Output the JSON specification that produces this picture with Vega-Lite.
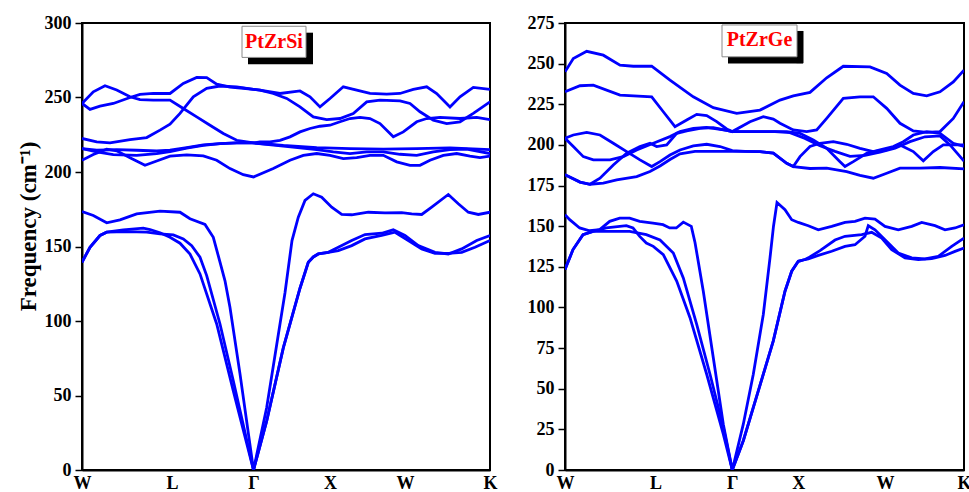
{
"$schema": "https://vega.github.io/schema/vega-lite/v6.json",
"autosize": {"type": "pad"},
"padding": {"left": 16, "top": 13, "right": 0, "bottom": 0},
"background": "white",
"spacing": 75,
"bounds": "flush",
"config": {
  "font": "Liberation Serif",
  "view": {"stroke": "black", "strokeWidth": 2},
  "axis": {"domainColor": "black", "domainWidth": 2, "tickColor": "black", "tickWidth": 1.5, "labelFont": "Liberation Serif", "labelFontWeight": "bold", "labelFontSize": 18, "labelColor": "black", "titleFont": "Liberation Serif", "titleFontWeight": "bold", "titleFontSize": 23, "titleColor": "black", "grid": false}
},
"datasets": {
"si": [
{"b":"a1","k":0,"f":173.5},{"b":"a1","k":0.113,"f":170.8},{"b":"a1","k":0.247,"f":165.9},{"b":"a1","k":0.38,"f":167.9},{"b":"a1","k":0.547,"f":171.9},{"b":"a1","k":0.78,"f":173.7},{"b":"a1","k":0.98,"f":173},{"b":"a1","k":1.08,"f":168.6},{"b":"a1","k":1.23,"f":164.8},{"b":"a1","k":1.313,"f":156.2},{"b":"a1","k":1.38,"f":139.5},{"b":"a1","k":1.43,"f":127},{"b":"a1","k":1.48,"f":109},{"b":"a1","k":1.58,"f":64.5},{"b":"a1","k":1.715,"f":0},{"b":"a1","k":1.847,"f":41.9},{"b":"a1","k":1.98,"f":98},{"b":"a1","k":2.03,"f":119},{"b":"a1","k":2.1,"f":154},{"b":"a1","k":2.163,"f":169.7},{"b":"a1","k":2.23,"f":180.9},{"b":"a1","k":2.313,"f":185.4},{"b":"a1","k":2.397,"f":183.1},{"b":"a1","k":2.497,"f":176.4},{"b":"a1","k":2.597,"f":171.5},{"b":"a1","k":2.697,"f":171.3},{"b":"a1","k":2.863,"f":173},{"b":"a1","k":3.03,"f":172.6},{"b":"a1","k":3.197,"f":172.8},{"b":"a1","k":3.297,"f":171.9},{"b":"a1","k":3.397,"f":171.5},{"b":"a1","k":3.497,"f":176.4},{"b":"a1","k":3.663,"f":184.9},{"b":"a1","k":3.763,"f":178.7},{"b":"a1","k":3.863,"f":173},{"b":"a1","k":3.963,"f":171.5},{"b":"a1","k":4.08,"f":173},
{"b":"a2","k":0,"f":139.4},{"b":"a2","k":0.08,"f":149.5},{"b":"a2","k":0.18,"f":157.4},{"b":"a2","k":0.247,"f":159.6},{"b":"a2","k":0.45,"f":160},{"b":"a2","k":0.647,"f":159.6},{"b":"a2","k":0.78,"f":158.5},{"b":"a2","k":0.913,"f":157.8},{"b":"a2","k":1.013,"f":155.1},{"b":"a2","k":1.097,"f":150.6},{"b":"a2","k":1.18,"f":142.8},{"b":"a2","k":1.247,"f":130.5},{"b":"a2","k":1.38,"f":98},{"b":"a2","k":1.513,"f":59.9},{"b":"a2","k":1.715,"f":0},{"b":"a2","k":1.847,"f":33},{"b":"a2","k":2.013,"f":82},{"b":"a2","k":2.18,"f":122},{"b":"a2","k":2.263,"f":139.4},{"b":"a2","k":2.313,"f":143},{"b":"a2","k":2.363,"f":145},{"b":"a2","k":2.463,"f":146.1},{"b":"a2","k":2.563,"f":149.5},{"b":"a2","k":2.697,"f":154},{"b":"a2","k":2.83,"f":158},{"b":"a2","k":2.997,"f":158.9},{"b":"a2","k":3.113,"f":161.2},{"b":"a2","k":3.23,"f":157.4},{"b":"a2","k":3.363,"f":150.6},{"b":"a2","k":3.53,"f":146.1},{"b":"a2","k":3.663,"f":145},{"b":"a2","k":3.797,"f":148.4},{"b":"a2","k":3.947,"f":154},{"b":"a2","k":4.08,"f":157.4},
{"b":"a3","k":0,"f":139.4},{"b":"a3","k":0.08,"f":149.5},{"b":"a3","k":0.18,"f":157.4},{"b":"a3","k":0.247,"f":159.6},{"b":"a3","k":0.413,"f":161.2},{"b":"a3","k":0.613,"f":162.3},{"b":"a3","k":0.68,"f":161.4},{"b":"a3","k":0.78,"f":159.2},{"b":"a3","k":0.88,"f":156.2},{"b":"a3","k":0.98,"f":152.2},{"b":"a3","k":1.08,"f":144.9},{"b":"a3","k":1.18,"f":131.6},{"b":"a3","k":1.347,"f":98},{"b":"a3","k":1.513,"f":53.1},{"b":"a3","k":1.715,"f":0},{"b":"a3","k":1.847,"f":33},{"b":"a3","k":2.013,"f":82},{"b":"a3","k":2.18,"f":122},{"b":"a3","k":2.263,"f":139.4},{"b":"a3","k":2.313,"f":143},{"b":"a3","k":2.363,"f":145},{"b":"a3","k":2.463,"f":146.1},{"b":"a3","k":2.563,"f":147.3},{"b":"a3","k":2.697,"f":150.6},{"b":"a3","k":2.83,"f":155.1},{"b":"a3","k":2.997,"f":157.4},{"b":"a3","k":3.13,"f":159.6},{"b":"a3","k":3.263,"f":154},{"b":"a3","k":3.397,"f":148.4},{"b":"a3","k":3.53,"f":145.4},{"b":"a3","k":3.663,"f":145.4},{"b":"a3","k":3.797,"f":146.1},{"b":"a3","k":3.93,"f":149.5},{"b":"a3","k":4.08,"f":154},
{"b":"o1","k":0,"f":246},{"b":"o1","k":0.113,"f":253.8},{"b":"o1","k":0.23,"f":257.9},{"b":"o1","k":0.347,"f":255},{"b":"o1","k":0.48,"f":250.5},{"b":"o1","k":0.58,"f":248.6},{"b":"o1","k":0.713,"f":248.2},{"b":"o1","k":0.88,"f":248.2},{"b":"o1","k":1.013,"f":242.6},{"b":"o1","k":1.147,"f":237},{"b":"o1","k":1.28,"f":231.4},{"b":"o1","k":1.413,"f":225.8},{"b":"o1","k":1.547,"f":221.3},{"b":"o1","k":1.715,"f":219.5},{"b":"o1","k":1.78,"f":220.2},{"b":"o1","k":1.88,"f":220.2},{"b":"o1","k":1.98,"f":221.3},{"b":"o1","k":2.08,"f":223.6},{"b":"o1","k":2.18,"f":226.9},{"b":"o1","k":2.28,"f":229.2},{"b":"o1","k":2.38,"f":230.7},{"b":"o1","k":2.48,"f":231.4},{"b":"o1","k":2.58,"f":233.7},{"b":"o1","k":2.68,"f":235.9},{"b":"o1","k":2.78,"f":236.6},{"b":"o1","k":2.88,"f":235.9},{"b":"o1","k":2.98,"f":232.5},{"b":"o1","k":3.113,"f":223.6},{"b":"o1","k":3.213,"f":226.9},{"b":"o1","k":3.347,"f":233.7},{"b":"o1","k":3.447,"f":235.9},{"b":"o1","k":3.58,"f":236.6},{"b":"o1","k":3.78,"f":235.9},{"b":"o1","k":3.947,"f":236.6},{"b":"o1","k":4.08,"f":235.2},
{"b":"o2","k":0,"f":246},{"b":"o2","k":0.08,"f":242},{"b":"o2","k":0.18,"f":244.2},{"b":"o2","k":0.313,"f":246},{"b":"o2","k":0.48,"f":250},{"b":"o2","k":0.58,"f":252.1},{"b":"o2","k":0.713,"f":252.7},{"b":"o2","k":0.88,"f":252.7},{"b":"o2","k":1.013,"f":259.4},{"b":"o2","k":1.147,"f":263.5},{"b":"o2","k":1.247,"f":263.3},{"b":"o2","k":1.347,"f":259},{"b":"o2","k":1.48,"f":257},{"b":"o2","k":1.613,"f":256.2},{"b":"o2","k":1.715,"f":255.5},{"b":"o2","k":1.78,"f":254.9},{"b":"o2","k":1.98,"f":252.7},{"b":"o2","k":2.18,"f":254.4},{"b":"o2","k":2.28,"f":250.5},{"b":"o2","k":2.38,"f":243.7},{"b":"o2","k":2.48,"f":249.3},{"b":"o2","k":2.613,"f":257.2},{"b":"o2","k":2.747,"f":255},{"b":"o2","k":2.88,"f":252.7},{"b":"o2","k":3.047,"f":252.3},{"b":"o2","k":3.18,"f":252.7},{"b":"o2","k":3.313,"f":255.4},{"b":"o2","k":3.447,"f":257.2},{"b":"o2","k":3.547,"f":252.7},{"b":"o2","k":3.68,"f":243.7},{"b":"o2","k":3.78,"f":250.5},{"b":"o2","k":3.913,"f":256.8},{"b":"o2","k":4.08,"f":255.4},
{"b":"o3","k":0,"f":222.5},{"b":"o3","k":0.147,"f":220.2},{"b":"o3","k":0.28,"f":219.5},{"b":"o3","k":0.48,"f":221.8},{"b":"o3","k":0.647,"f":223.1},{"b":"o3","k":0.78,"f":228.1},{"b":"o3","k":0.88,"f":232.1},{"b":"o3","k":0.98,"f":239.3},{"b":"o3","k":1.113,"f":250.5},{"b":"o3","k":1.247,"f":256.1},{"b":"o3","k":1.38,"f":257.7},{"b":"o3","k":1.547,"f":257.2},{"b":"o3","k":1.715,"f":255.5},{"b":"o3","k":1.78,"f":254.9},{"b":"o3","k":1.913,"f":252.7},{"b":"o3","k":2.047,"f":249.4},{"b":"o3","k":2.18,"f":243.7},{"b":"o3","k":2.313,"f":237},{"b":"o3","k":2.447,"f":235.2},{"b":"o3","k":2.58,"f":235.9},{"b":"o3","k":2.713,"f":239.3},{"b":"o3","k":2.847,"f":247.1},{"b":"o3","k":2.98,"f":248.2},{"b":"o3","k":3.18,"f":247.8},{"b":"o3","k":3.28,"f":246},{"b":"o3","k":3.38,"f":240.4},{"b":"o3","k":3.513,"f":234.8},{"b":"o3","k":3.647,"f":232.5},{"b":"o3","k":3.78,"f":233.7},{"b":"o3","k":3.913,"f":239.3},{"b":"o3","k":4.08,"f":247.1},
{"b":"o4","k":0,"f":207.9},{"b":"o4","k":0.113,"f":211.7},{"b":"o4","k":0.247,"f":215.3},{"b":"o4","k":0.347,"f":214.2},{"b":"o4","k":0.48,"f":209.5},{"b":"o4","k":0.63,"f":204.5},{"b":"o4","k":0.747,"f":207.4},{"b":"o4","k":0.88,"f":210.6},{"b":"o4","k":1.047,"f":211.5},{"b":"o4","k":1.213,"f":210.8},{"b":"o4","k":1.347,"f":207.9},{"b":"o4","k":1.48,"f":202.3},{"b":"o4","k":1.613,"f":198.2},{"b":"o4","k":1.715,"f":196.7},{"b":"o4","k":1.913,"f":202.3},{"b":"o4","k":2.08,"f":207.9},{"b":"o4","k":2.213,"f":211.2},{"b":"o4","k":2.347,"f":212.4},{"b":"o4","k":2.48,"f":211.2},{"b":"o4","k":2.613,"f":209},{"b":"o4","k":2.747,"f":209.7},{"b":"o4","k":2.88,"f":211.2},{"b":"o4","k":3.013,"f":211.2},{"b":"o4","k":3.147,"f":206.8},{"b":"o4","k":3.28,"f":204.5},{"b":"o4","k":3.38,"f":204.5},{"b":"o4","k":3.48,"f":207.9},{"b":"o4","k":3.613,"f":211.2},{"b":"o4","k":3.747,"f":212.4},{"b":"o4","k":3.88,"f":210.6},{"b":"o4","k":3.98,"f":209.7},{"b":"o4","k":4.08,"f":210.6},
{"b":"o5","k":0,"f":215.7},{"b":"o5","k":0.147,"f":213.5},{"b":"o5","k":0.313,"f":211.7},{"b":"o5","k":0.547,"f":211.2},{"b":"o5","k":0.747,"f":212.4},{"b":"o5","k":0.88,"f":213.7},{"b":"o5","k":1.047,"f":216},{"b":"o5","k":1.213,"f":217.8},{"b":"o5","k":1.38,"f":219.1},{"b":"o5","k":1.547,"f":219.5},{"b":"o5","k":1.715,"f":219.5},{"b":"o5","k":2.013,"f":217.8},{"b":"o5","k":2.347,"f":216.4},{"b":"o5","k":2.68,"f":215.7},{"b":"o5","k":3.013,"f":215.3},{"b":"o5","k":3.347,"f":215.7},{"b":"o5","k":3.68,"f":216.2},{"b":"o5","k":4.08,"f":215},
{"b":"o6","k":0,"f":215.7},{"b":"o6","k":0.147,"f":214.6},{"b":"o6","k":0.347,"f":215},{"b":"o6","k":0.547,"f":214.6},{"b":"o6","k":0.747,"f":214.1},{"b":"o6","k":0.88,"f":214.6},{"b":"o6","k":1.047,"f":216.4},{"b":"o6","k":1.213,"f":218.2},{"b":"o6","k":1.38,"f":219.1},{"b":"o6","k":1.547,"f":219.5},{"b":"o6","k":1.715,"f":219.5},{"b":"o6","k":2.013,"f":217.3},{"b":"o6","k":2.347,"f":215},{"b":"o6","k":2.513,"f":213.5},{"b":"o6","k":2.68,"f":212.3},{"b":"o6","k":2.847,"f":213.5},{"b":"o6","k":3.013,"f":213.5},{"b":"o6","k":3.18,"f":211.9},{"b":"o6","k":3.347,"f":211.2},{"b":"o6","k":3.513,"f":213.5},{"b":"o6","k":3.68,"f":215},{"b":"o6","k":3.847,"f":215.3},{"b":"o6","k":4.08,"f":212.4}
],
"ge": [
{"b":"a1","k":0,"f":157.1},{"b":"a1","k":0.047,"f":154},{"b":"a1","k":0.147,"f":148.9},{"b":"a1","k":0.247,"f":147.2},{"b":"a1","k":0.347,"f":147.9},{"b":"a1","k":0.447,"f":153},{"b":"a1","k":0.547,"f":155},{"b":"a1","k":0.647,"f":155},{"b":"a1","k":0.747,"f":153},{"b":"a1","k":0.88,"f":151.9},{"b":"a1","k":0.98,"f":150.9},{"b":"a1","k":1.047,"f":148.9},{"b":"a1","k":1.113,"f":148.9},{"b":"a1","k":1.183,"f":152.5},{"b":"a1","k":1.263,"f":149.9},{"b":"a1","k":1.3,"f":140},{"b":"a1","k":1.383,"f":110},{"b":"a1","k":1.483,"f":69.1},{"b":"a1","k":1.583,"f":28.2},{"b":"a1","k":1.673,"f":0},{"b":"a1","k":1.783,"f":28.2},{"b":"a1","k":1.883,"f":58.9},{"b":"a1","k":1.983,"f":95.7},{"b":"a1","k":2.05,"f":130.5},{"b":"a1","k":2.085,"f":150},{"b":"a1","k":2.12,"f":164.6},{"b":"a1","k":2.2,"f":160.1},{"b":"a1","k":2.267,"f":154},{"b":"a1","k":2.333,"f":152.3},{"b":"a1","k":2.433,"f":150.3},{"b":"a1","k":2.533,"f":147.8},{"b":"a1","k":2.667,"f":149.9},{"b":"a1","k":2.8,"f":152.3},{"b":"a1","k":2.9,"f":153},{"b":"a1","k":3.0,"f":155},{"b":"a1","k":3.1,"f":154.4},{"b":"a1","k":3.2,"f":149.9},{"b":"a1","k":3.333,"f":147.8},{"b":"a1","k":3.467,"f":149.9},{"b":"a1","k":3.567,"f":152.3},{"b":"a1","k":3.7,"f":150.3},{"b":"a1","k":3.8,"f":147.8},{"b":"a1","k":3.9,"f":148.9},{"b":"a1","k":3.99,"f":150.9},
{"b":"a2","k":0,"f":123.3},{"b":"a2","k":0.08,"f":135.6},{"b":"a2","k":0.18,"f":144.8},{"b":"a2","k":0.28,"f":146.8},{"b":"a2","k":0.413,"f":148.9},{"b":"a2","k":0.613,"f":150.3},{"b":"a2","k":0.68,"f":148.9},{"b":"a2","k":0.747,"f":143.7},{"b":"a2","k":0.813,"f":139.6},{"b":"a2","k":0.883,"f":137.6},{"b":"a2","k":0.983,"f":132.5},{"b":"a2","k":1.117,"f":116.2},{"b":"a2","k":1.25,"f":93.7},{"b":"a2","k":1.417,"f":58.9},{"b":"a2","k":1.583,"f":22.1},{"b":"a2","k":1.673,"f":0},{"b":"a2","k":1.783,"f":18},{"b":"a2","k":1.933,"f":48.7},{"b":"a2","k":2.083,"f":79.4},{"b":"a2","k":2.2,"f":110},{"b":"a2","k":2.267,"f":122.3},{"b":"a2","k":2.333,"f":128.4},{"b":"a2","k":2.4,"f":129.5},{"b":"a2","k":2.433,"f":129.9},{"b":"a2","k":2.533,"f":132},{"b":"a2","k":2.667,"f":134.6},{"b":"a2","k":2.8,"f":137.6},{"b":"a2","k":2.9,"f":138.6},{"b":"a2","k":3.0,"f":143.8},{"b":"a2","k":3.033,"f":150.3},{"b":"a2","k":3.1,"f":147.8},{"b":"a2","k":3.2,"f":141.7},{"b":"a2","k":3.333,"f":133.5},{"b":"a2","k":3.467,"f":130.5},{"b":"a2","k":3.6,"f":129.9},{"b":"a2","k":3.733,"f":131.5},{"b":"a2","k":3.867,"f":137.6},{"b":"a2","k":3.99,"f":142.7},
{"b":"a3","k":0,"f":123.3},{"b":"a3","k":0.08,"f":135.6},{"b":"a3","k":0.18,"f":144.8},{"b":"a3","k":0.28,"f":146.8},{"b":"a3","k":0.413,"f":146.8},{"b":"a3","k":0.647,"f":146.8},{"b":"a3","k":0.813,"f":144.8},{"b":"a3","k":0.95,"f":141.5},{"b":"a3","k":1.083,"f":133.5},{"b":"a3","k":1.183,"f":118.2},{"b":"a3","k":1.317,"f":89.6},{"b":"a3","k":1.45,"f":58.9},{"b":"a3","k":1.583,"f":26.2},{"b":"a3","k":1.673,"f":0},{"b":"a3","k":1.783,"f":18},{"b":"a3","k":1.933,"f":48.7},{"b":"a3","k":2.083,"f":79.4},{"b":"a3","k":2.2,"f":110},{"b":"a3","k":2.267,"f":122.3},{"b":"a3","k":2.333,"f":128.4},{"b":"a3","k":2.4,"f":129.5},{"b":"a3","k":2.433,"f":130.5},{"b":"a3","k":2.55,"f":135},{"b":"a3","k":2.7,"f":141.5},{"b":"a3","k":2.8,"f":143.8},{"b":"a3","k":2.967,"f":144.8},{"b":"a3","k":3.067,"f":146.2},{"b":"a3","k":3.167,"f":142.7},{"b":"a3","k":3.267,"f":135.6},{"b":"a3","k":3.4,"f":130.5},{"b":"a3","k":3.533,"f":129.4},{"b":"a3","k":3.667,"f":130},{"b":"a3","k":3.8,"f":132},{"b":"a3","k":3.9,"f":134.5},{"b":"a3","k":3.99,"f":136.6},
{"b":"g1","k":0,"f":245},{"b":"g1","k":0.083,"f":253.1},{"b":"g1","k":0.217,"f":257.6},{"b":"g1","k":0.383,"f":255.2},{"b":"g1","k":0.55,"f":249.1},{"b":"g1","k":0.683,"f":248.4},{"b":"g1","k":0.867,"f":248.4},{"b":"g1","k":1.05,"f":239.8},{"b":"g1","k":1.283,"f":229.6},{"b":"g1","k":1.483,"f":222.9},{"b":"g1","k":1.717,"f":219.4},{"b":"g1","k":1.95,"f":221.4},{"b":"g1","k":2.15,"f":227.6},{"b":"g1","k":2.283,"f":230.2},{"b":"g1","k":2.45,"f":232.3},{"b":"g1","k":2.617,"f":241.3},{"b":"g1","k":2.783,"f":248.4},{"b":"g1","k":3.05,"f":248},{"b":"g1","k":3.217,"f":243.9},{"b":"g1","k":3.35,"f":236.8},{"b":"g1","k":3.483,"f":231.7},{"b":"g1","k":3.617,"f":230.2},{"b":"g1","k":3.75,"f":232.7},{"b":"g1","k":3.883,"f":238.8},{"b":"g1","k":3.99,"f":246},
{"b":"g2","k":0,"f":232.7},{"b":"g2","k":0.15,"f":236.4},{"b":"g2","k":0.283,"f":236.8},{"b":"g2","k":0.55,"f":230.6},{"b":"g2","k":0.867,"f":229.6},{"b":"g2","k":0.983,"f":220.4},{"b":"g2","k":1.1,"f":211.2},{"b":"g2","k":1.217,"f":215.3},{"b":"g2","k":1.317,"f":218.8},{"b":"g2","k":1.417,"f":218},{"b":"g2","k":1.517,"f":214.3},{"b":"g2","k":1.617,"f":209.8},{"b":"g2","k":1.673,"f":208.2},{"b":"g2","k":1.85,"f":214.3},{"b":"g2","k":1.983,"f":217.4},{"b":"g2","k":2.083,"f":215.9},{"b":"g2","k":2.15,"f":213.3},{"b":"g2","k":2.283,"f":209.2},{"b":"g2","k":2.417,"f":208.2},{"b":"g2","k":2.517,"f":209.2},{"b":"g2","k":2.617,"f":216.3},{"b":"g2","k":2.783,"f":228.6},{"b":"g2","k":2.95,"f":229.6},{"b":"g2","k":3.083,"f":229.6},{"b":"g2","k":3.217,"f":222.5},{"b":"g2","k":3.35,"f":213.3},{"b":"g2","k":3.483,"f":208.6},{"b":"g2","k":3.617,"f":207.7},{"b":"g2","k":3.75,"f":208.2},{"b":"g2","k":3.883,"f":216.3},{"b":"g2","k":3.99,"f":226.6},
{"b":"g3","k":0,"f":204.1},{"b":"g3","k":0.083,"f":199},{"b":"g3","k":0.183,"f":192.8},{"b":"g3","k":0.283,"f":190.8},{"b":"g3","k":0.45,"f":190.8},{"b":"g3","k":0.583,"f":192.8},{"b":"g3","k":0.717,"f":196.9},{"b":"g3","k":0.883,"f":201},{"b":"g3","k":1.05,"f":205.1},{"b":"g3","k":1.15,"f":208.2},{"b":"g3","k":1.283,"f":210.2},{"b":"g3","k":1.417,"f":210.8},{"b":"g3","k":1.617,"f":209},{"b":"g3","k":1.673,"f":208.2},{"b":"g3","k":1.9,"f":208.2},{"b":"g3","k":2.1,"f":208.2},{"b":"g3","k":2.25,"f":207.5},{"b":"g3","k":2.4,"f":204},{"b":"g3","k":2.55,"f":199.5},{"b":"g3","k":2.7,"f":196},{"b":"g3","k":2.85,"f":193},{"b":"g3","k":3.0,"f":193.5},{"b":"g3","k":3.15,"f":195.5},{"b":"g3","k":3.3,"f":198},{"b":"g3","k":3.45,"f":202},{"b":"g3","k":3.6,"f":205},{"b":"g3","k":3.75,"f":205.5},{"b":"g3","k":3.85,"f":200},{"b":"g3","k":3.99,"f":190},
{"b":"g4","k":0,"f":181.6},{"b":"g4","k":0.15,"f":177.1},{"b":"g4","k":0.25,"f":175.8},{"b":"g4","k":0.35,"f":179.5},{"b":"g4","k":0.483,"f":187.7},{"b":"g4","k":0.617,"f":194.9},{"b":"g4","k":0.75,"f":199},{"b":"g4","k":0.85,"f":201},{"b":"g4","k":0.917,"f":199},{"b":"g4","k":1.017,"f":200},{"b":"g4","k":1.117,"f":207.1},{"b":"g4","k":1.217,"f":208.6},{"b":"g4","k":1.35,"f":210.2},{"b":"g4","k":1.483,"f":210.6},{"b":"g4","k":1.617,"f":209},{"b":"g4","k":1.673,"f":208.2},{"b":"g4","k":1.95,"f":208.2},{"b":"g4","k":2.217,"f":208.2},{"b":"g4","k":2.35,"f":207.1},{"b":"g4","k":2.483,"f":203},{"b":"g4","k":2.617,"f":197.9},{"b":"g4","k":2.75,"f":189.7},{"b":"g4","k":2.8,"f":186.7},{"b":"g4","k":2.883,"f":189.7},{"b":"g4","k":3.017,"f":194.9},{"b":"g4","k":3.15,"f":196.9},{"b":"g4","k":3.283,"f":199},{"b":"g4","k":3.383,"f":202},{"b":"g4","k":3.483,"f":206.1},{"b":"g4","k":3.617,"f":208.2},{"b":"g4","k":3.75,"f":207.1},{"b":"g4","k":3.883,"f":201},{"b":"g4","k":3.99,"f":199},
{"b":"g5","k":0,"f":204.1},{"b":"g5","k":0.083,"f":206.1},{"b":"g5","k":0.217,"f":207.7},{"b":"g5","k":0.35,"f":206.1},{"b":"g5","k":0.483,"f":201},{"b":"g5","k":0.617,"f":195.9},{"b":"g5","k":0.75,"f":190.8},{"b":"g5","k":0.867,"f":186.7},{"b":"g5","k":0.95,"f":189.7},{"b":"g5","k":1.05,"f":193.8},{"b":"g5","k":1.15,"f":196.9},{"b":"g5","k":1.283,"f":199.4},{"b":"g5","k":1.417,"f":200.4},{"b":"g5","k":1.55,"f":199},{"b":"g5","k":1.673,"f":196.5},{"b":"g5","k":1.8,"f":196},{"b":"g5","k":1.95,"f":195.9},{"b":"g5","k":2.083,"f":194.9},{"b":"g5","k":2.217,"f":188.7},{"b":"g5","k":2.283,"f":186.7},{"b":"g5","k":2.35,"f":192.8},{"b":"g5","k":2.45,"f":199},{"b":"g5","k":2.55,"f":201},{"b":"g5","k":2.683,"f":202},{"b":"g5","k":2.817,"f":200.4},{"b":"g5","k":2.95,"f":197.9},{"b":"g5","k":3.083,"f":195.9},{"b":"g5","k":3.217,"f":196.9},{"b":"g5","k":3.35,"f":200},{"b":"g5","k":3.483,"f":195.9},{"b":"g5","k":3.583,"f":190.2},{"b":"g5","k":3.683,"f":195.9},{"b":"g5","k":3.783,"f":200},{"b":"g5","k":3.99,"f":200},
{"b":"g6","k":0,"f":181.6},{"b":"g6","k":0.15,"f":177.1},{"b":"g6","k":0.25,"f":175.8},{"b":"g6","k":0.383,"f":176.5},{"b":"g6","k":0.517,"f":178.5},{"b":"g6","k":0.717,"f":180.5},{"b":"g6","k":0.85,"f":183.6},{"b":"g6","k":0.95,"f":187},{"b":"g6","k":1.05,"f":191},{"b":"g6","k":1.15,"f":194.5},{"b":"g6","k":1.3,"f":196},{"b":"g6","k":1.45,"f":196},{"b":"g6","k":1.673,"f":196},{"b":"g6","k":1.8,"f":196},{"b":"g6","k":1.95,"f":195.9},{"b":"g6","k":2.083,"f":194.9},{"b":"g6","k":2.217,"f":188.7},{"b":"g6","k":2.283,"f":186.7},{"b":"g6","k":2.45,"f":185.5},{"b":"g6","k":2.617,"f":185.7},{"b":"g6","k":2.817,"f":183.6},{"b":"g6","k":2.95,"f":181.2},{"b":"g6","k":3.083,"f":179.5},{"b":"g6","k":3.217,"f":182.6},{"b":"g6","k":3.35,"f":185.7},{"b":"g6","k":3.55,"f":185.7},{"b":"g6","k":3.75,"f":186.1},{"b":"g6","k":3.99,"f":185.3}
],
"shsi": [{"xa": 2.275, "xb": 2.275, "ya": 293.5, "yb": 272.5}, {"xa": 1.66, "xb": 2.31, "ya": 274.6, "yb": 274.6}],
"shge": [{"xa": 2.35, "xb": 2.35, "ya": 270.1, "yb": 250.3}, {"xa": 1.63, "xb": 2.38, "ya": 252.2, "yb": 252.2}],
"boxsi": [{"x1": 1.60, "x2": 2.24, "y1": 297.8, "y2": 276.9}],
"boxge": [{"x1": 1.57, "x2": 2.32, "y1": 273.8, "y2": 254.2}],
"lblsi": [{"name": "PtZrSi", "tx": 1.92, "ty": 287.2}],
"lblge": [{"name": "PtZrGe", "tx": 1.945, "ty": 264.3}]
},
"hconcat": [
{
  "width": 408, "height": 447,
  "layer": [
    {
      "data": {"name": "si"},
      "mark": {"type": "line", "color": "#0000FF", "strokeWidth": 2.8, "clip": true},
      "encoding": {
        "x": {"field": "k", "type": "quantitative", "scale": {"domain": [0, 4.08], "nice": false, "zero": false},
              "axis": {"values": [0, 0.9, 1.715, 2.48, 3.23, 4.08], "labelExpr": "['W','L','Γ','X','W','K'][indexof([0, 0.9, 1.715, 2.48, 3.23, 4.08], datum.value)]", "ticks": false, "title": null, "labelFlush": false, "labelPadding": 4}},
        "y": {"field": "f", "type": "quantitative", "scale": {"domain": [0, 300], "nice": false},
              "axis": {"values": [0,25,50,75,100,125,150,175,200,225,250,275,300], "labelExpr": "datum.value % 50 == 0 ? datum.label : ''", "tickSize": 7, "labelPadding": 4, "title": "Frequency (cm⁻¹)", "titlePadding": 4, "titleY": 203}},
        "detail": {"field": "b"}
      }
    },
    {"data": {"name": "shsi"}, "mark": {"type": "rule", "color": "#000000", "strokeWidth": 7, "strokeCap": "butt"},
     "encoding": {"x": {"field": "xa", "type": "quantitative"}, "x2": {"field": "xb"}, "y": {"field": "ya", "type": "quantitative"}, "y2": {"field": "yb"}}},
    {"data": {"name": "boxsi"}, "mark": {"type": "rect", "fill": "#FFFFFF", "stroke": "#8A8A8A", "strokeWidth": 1},
     "encoding": {"x": {"field": "x1", "type": "quantitative"}, "x2": {"field": "x2"}, "y": {"field": "y1", "type": "quantitative"}, "y2": {"field": "y2"}}},
    {"data": {"name": "lblsi"}, "mark": {"type": "text", "color": "#FF0000", "fontSize": 20, "fontWeight": "bold", "font": "Liberation Serif", "align": "center", "baseline": "middle"}, "encoding": {"x": {"field": "tx", "type": "quantitative"}, "y": {"field": "ty", "type": "quantitative"}, "text": {"field": "name"}}}
  ]
},
{
  "width": 399, "height": 447,
  "layer": [
    {
      "data": {"name": "ge"},
      "mark": {"type": "line", "color": "#0000FF", "strokeWidth": 2.8, "clip": true},
      "encoding": {
        "x": {"field": "k", "type": "quantitative", "scale": {"domain": [0, 3.99], "nice": false, "zero": false},
              "axis": {"values": [0, 0.905, 1.673, 2.333, 3.2, 3.99], "labelExpr": "['W','L','Γ','X','W','K'][indexof([0, 0.905, 1.673, 2.333, 3.2, 3.99], datum.value)]", "ticks": false, "title": null, "labelFlush": false, "labelPadding": 4}},
        "y": {"field": "f", "type": "quantitative", "scale": {"domain": [0, 275], "nice": false},
              "axis": {"values": [0,12.5,25,37.5,50,62.5,75,87.5,100,112.5,125,137.5,150,162.5,175,187.5,200,212.5,225,237.5,250,262.5,275], "labelExpr": "datum.value % 25 == 0 ? datum.label : ''", "tickSize": 7, "labelPadding": 4, "title": null}},
        "detail": {"field": "b"}
      }
    },
    {"data": {"name": "shge"}, "mark": {"type": "rule", "color": "#000000", "strokeWidth": 7, "strokeCap": "butt"},
     "encoding": {"x": {"field": "xa", "type": "quantitative"}, "x2": {"field": "xb"}, "y": {"field": "ya", "type": "quantitative"}, "y2": {"field": "yb"}}},
    {"data": {"name": "boxge"}, "mark": {"type": "rect", "fill": "#FFFFFF", "stroke": "#8A8A8A", "strokeWidth": 1},
     "encoding": {"x": {"field": "x1", "type": "quantitative"}, "x2": {"field": "x2"}, "y": {"field": "y1", "type": "quantitative"}, "y2": {"field": "y2"}}},
    {"data": {"name": "lblge"}, "mark": {"type": "text", "color": "#FF0000", "fontSize": 20, "fontWeight": "bold", "font": "Liberation Serif", "align": "center", "baseline": "middle"}, "encoding": {"x": {"field": "tx", "type": "quantitative"}, "y": {"field": "ty", "type": "quantitative"}, "text": {"field": "name"}}}
  ]
}
]
}
